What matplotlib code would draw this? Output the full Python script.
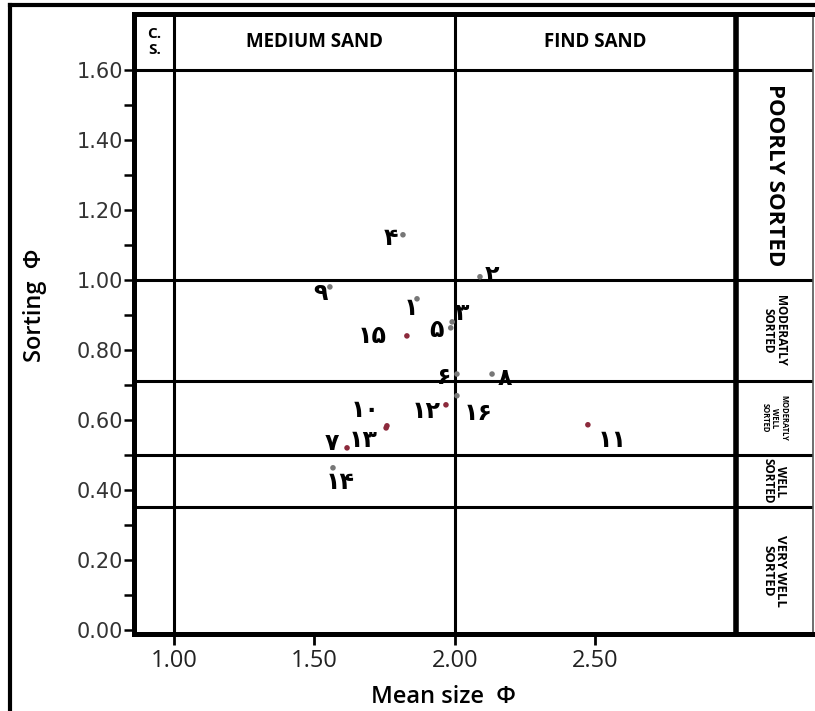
import matplotlib
matplotlib.use("Agg")
import matplotlib.pyplot as plt
from matplotlib.lines import Line2D
import numpy as np

# sample numbers (Persian digits) and their mean size / sorting values
labels = ['۱', '۲', '۳', '۴', '۵', '۶', '۷', '۸',
          '۹', '۱۰', '۱۱', '۱۲', '۱۳', '۱۴', '۱۵', '۱۶']
mean_size = [1.865, 2.089, 1.99, 1.815, 1.985, 2.007, 1.616, 2.132,
             1.555, 1.758, 2.473, 1.968, 1.755, 1.566, 1.829, 2.007]
sorting = [0.946, 1.009, 0.88, 1.129, 0.863, 0.731, 0.52, 0.731,
           0.98, 0.583, 0.586, 0.643, 0.577, 0.463, 0.84, 0.669]
is_red = [0, 0, 0, 0, 0, 0, 1, 0, 0, 1, 1, 1, 1, 0, 1, 0]

# class boundaries
sort_bounds = [1.60, 1.00, 0.71, 0.50, 0.35]
size_bounds = [1.0, 2.0]
size_classes = ['MEDIUM SAND', 'FIND SAND']
sort_classes = ['POORLY SORTED', 'MODERATLY\nSORTED', 'MODERATLY\nWELL\nSORTED',
                'WELL\nSORTED', 'VERY WELL\nSORTED']

# label offsets in pixels (dx, dy) from each point
offs = [(-6, -9), (12, 2), (10, 9), (-12, -3), (-14, -2), (-13, -3), (-15, 5), (13, -4),
        (-9, -6), (-22, 16), (24, -15), (-20, -6), (-23, -12), (7, -14), (-35, 0), (21, -17)]

FONT = 'Open Sans'

fig = plt.figure(figsize=(8.15, 7.11), dpi=100)
ax = fig.add_axes([134/815, 1 - 634/711, 679/815, 620/711])

xmin, xmax = 0.858, 3.274
ymin, ymax = -0.012, 1.76
ax.set_xlim(xmin, xmax)
ax.set_ylim(ymin, ymax)

# grid of class boundaries
for yb in sort_bounds:
    ax.axhline(yb, color='black', lw=2.2, zorder=2)
for xb in size_bounds:
    ax.axvline(xb, color='black', lw=2.2, zorder=2)
ax.axvline(3.0, color='black', lw=4.0, zorder=2)

for s in ['left', 'bottom', 'top']:
    ax.spines[s].set_linewidth(3.6)
ax.spines['right'].set_linewidth(1.2)
ax.spines['right'].set_color('#555555')

cols = ['#8c2a3c' if r else '#777777' for r in is_red]
ax.scatter(mean_size, sorting, s=16, c=cols, zorder=4, linewidths=0)
for lab, x, y, (dx, dy) in zip(labels, mean_size, sorting, offs):
    ax.annotate(lab, (x, y), xytext=(dx, dy), textcoords='offset pixels',
                ha='center', va='center', fontsize=17, fontweight='bold',
                family=['DejaVu Sans'], zorder=5)

# header row
ax.text(0.93, 1.68, 'C.\nS.', ha='center', va='center', fontsize=11,
        fontweight='bold', family=FONT, linespacing=1.1)
for name, x0, x1 in zip(size_classes, size_bounds, [2.0, 3.0]):
    ax.text((x0 + x1) / 2, 1.68, name, ha='center', va='center', fontsize=13.5,
            fontweight='bold', family=FONT)

# right column
tops = [1.60, 1.00, 0.71, 0.50, 0.35]
bots = [1.00, 0.71, 0.50, 0.35, ymin]
sizes = [16, 8.5, 5.5, 8.5, 9.5]
for name, t, b, fs in zip(sort_classes, tops, bots, sizes):
    ax.text((3.0 + xmax) / 2, (t + b) / 2, name, ha='center', va='center',
            rotation=-90, fontsize=fs, fontweight='bold', family=FONT,
            linespacing=1.0)

ax.set_xticks([1.0, 1.5, 2.0, 2.5])
ax.set_xticklabels(['1.00', '1.50', '2.00', '2.50'], family=FONT, fontsize=17, color='#222222')
ax.set_yticks(np.arange(0, 1.61, 0.2))
ax.set_yticklabels(['%.2f' % v for v in np.arange(0, 1.61, 0.2)], fontsize=15, color='#333333')
ax.set_yticks(np.arange(0.1, 1.6, 0.2), minor=True)
ax.tick_params(axis='x', direction='out', length=8, width=2, pad=3)
ax.tick_params(axis='y', which='both', direction='out', length=7, width=1.8, pad=1)

ax.set_xlabel('Mean size  Φ', family=FONT, fontsize=17, fontweight='semibold')
ax.set_ylabel('Sorting  Φ', family=FONT, fontsize=17, fontweight='semibold')
ax.xaxis.set_label_coords(0.455, -0.082)
ax.yaxis.set_label_coords(-0.128, 0.53)

# outer frame of the figure
fig.add_artist(Line2D([10/815, 10/815], [0, 1 - 5/711], transform=fig.transFigure,
                      color='black', lw=3))
fig.add_artist(Line2D([10/815, 1], [1 - 5/711, 1 - 5/711], transform=fig.transFigure,
                      color='black', lw=3))

fig.savefig('out.png', dpi=100)
